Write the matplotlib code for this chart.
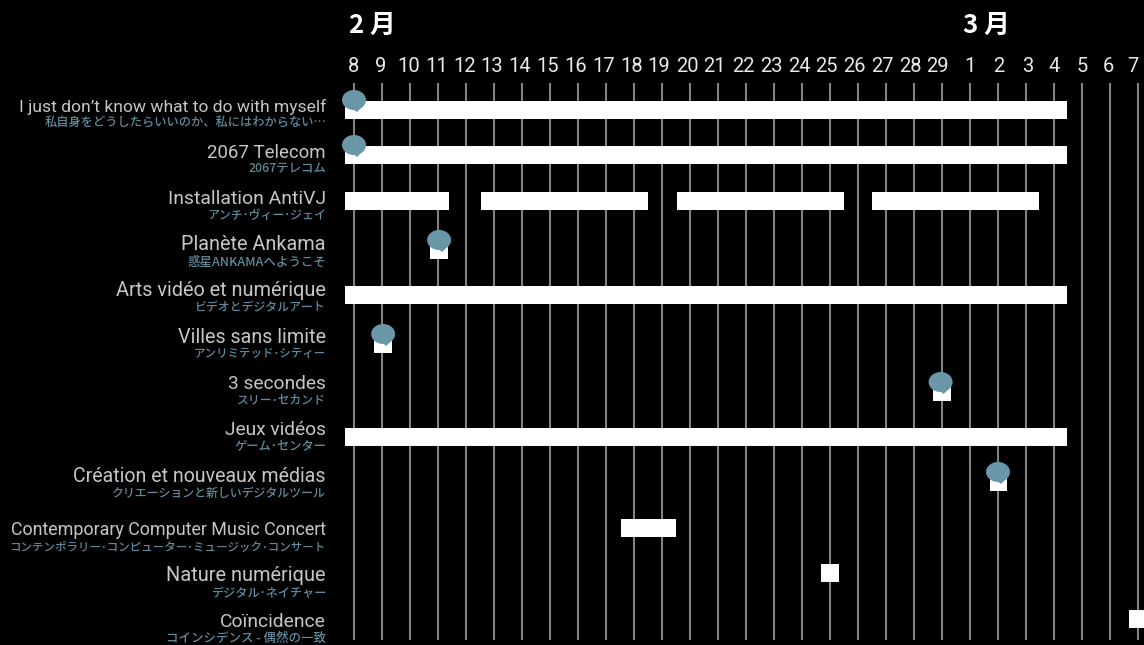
import matplotlib
matplotlib.use("Agg")
import matplotlib.pyplot as plt
from matplotlib.patches import Ellipse, Polygon

# ---- data ----
month_labels = ["2 月", "3 月"]
month_day_index = [0.66, 22.6]
day_labels = [8,9,10,11,12,13,14,15,16,17,18,19,20,21,22,23,24,25,26,27,28,29,1,2,3,4,5,6,7]
titles = ["I just don’t know what to do with myself", "2067 Telecom", "Installation AntiVJ",
          "Planète Ankama", "Arts vidéo et numérique", "Villes sans limite", "3 secondes",
          "Jeux vidéos", "Création et nouveaux médias", "Contemporary Computer Music Concert",
          "Nature numérique", "Coïncidence"]
subtitles = ["私自身をどうしたらいいのか、私にはわからない…", "2067テレコム", "アンチ･ヴィー･ジェイ",
             "惑星ANKAMAへようこそ", "ビデオとデジタルアート", "アンリミテッド･シティー", "スリー･セカンド",
             "ゲーム･センター", "クリエーションと新しいデジタルツール",
             "コンテンポラリー･コンピューター･ミュージック･コンサート", "デジタル･ネイチャー",
             "コインシデンス - 偶然の一致"]
# bar spans in day-index units (0 = Feb 8), per row
spans = [[(-0.32, 25.46)], [(-0.32, 25.46)],
         [(-0.32, 3.39), (4.53, 10.5), (11.54, 17.5), (18.5, 24.46)],
         [(2.71, 3.36)], [(-0.32, 25.46)], [(0.71, 1.36)], [(20.68, 21.32)],
         [(-0.32, 25.46)], [(22.71, 23.32)], [(9.54, 11.5)], [(16.68, 17.32)], [(27.68, 28.32)]]
bubble_rows = [0, 1, 3, 5, 6, 8]
bubble_days = [0, 0, 3.04, 1.04, 20.95, 23]

# ---- layout ----
W, H = 1144, 645
BLUE = "#6a97a8"
SUBBLUE = "#5f8b9c"
row_px = [110, 155, 201, 250, 295, 344, 392, 437, 482, 528, 573, 619]
title_base = [112, 158, 204, 250, 296, 343, 389, 435, 482, 535, 581, 627]
title_left = [21, 207.5, 168, 182, 116, 178, 228, 225, 73, 11, 165, 220]
sub_px = [123, 169, 215, 262, 308, 354, 400, 447, 493, 547, 593, 638]
sub_left = [44, 248, 207, 187, 195, 194, 237, 234, 111, 10, 211, 166]
day_label_px = [354, 381, 409, 437, 465, 492, 520, 548, 576, 604, 632, 659, 687, 714, 743, 771,
                799, 826, 854, 882, 910, 937, 970, 999, 1028, 1054, 1082, 1108, 1133]
X0, DX = 354, 28
RIGHT = 326
LATIN = ["Roboto", "DejaVu Sans"]
CJK = ["Noto Sans CJK JP", "DejaVu Sans"]

fig = plt.figure(figsize=(W/100, H/100), dpi=100, facecolor="black")
ax = fig.add_axes([0, 0, 1, 1], facecolor="black")
ax.set_xlim(-X0/DX, (W-X0)/DX)
ax.set_ylim(H, 0)
ax.axis("off")
px = 1/DX  # one pixel in day units
to_day = lambda p: (p - X0) * px


def fit(text, width):
    """Scale a text's size so that it spans the measured width."""
    r = fig.canvas.get_renderer()
    for _ in range(3):
        text.set_fontsize(text.get_fontsize() * width / text.get_window_extent(r).width)


for i, d in enumerate(day_labels):
    ax.plot([i, i], [83, 640], color="#808080", lw=1.5, solid_capstyle="butt", zorder=1)
    ax.text(to_day(day_label_px[i]), 72, str(d), color="#e8e8e8", fontsize=14.5, family=LATIN,
            ha="center", va="baseline")
for i, m in zip(month_day_index, month_labels):
    ax.text(i, 25, m, color="white", fontsize=18.5, fontweight="bold",
            family=CJK, ha="center", va="center")

for r, row in enumerate(spans):
    for a, b in row:
        ax.fill_between([a, b], row_px[r]-9, row_px[r]+9, color="white", lw=0, zorder=2)
    t = ax.text(to_day(RIGHT), title_base[r], titles[r], color="#c6c6c6", fontsize=14,
                family=LATIN, ha="right", va="baseline")
    fit(t, RIGHT - title_left[r])
    s = ax.text(to_day(RIGHT), sub_px[r], subtitles[r], color=SUBBLUE, fontsize=8.8,
                family=CJK, ha="right", va="center", fontweight="medium")
    fit(s, RIGHT - sub_left[r])

for r, d in zip(bubble_rows, bubble_days):
    cy = row_px[r] - 10
    ax.add_patch(Ellipse((d, cy), 24*px, 20, color=BLUE, lw=0, zorder=3))
    ax.add_patch(Polygon([(d-2*px, cy+8), (d+3*px, cy+12), (d+8*px, cy+7)], closed=True,
                         color=BLUE, lw=0, zorder=3))

fig.savefig("out.png", dpi=100, facecolor="black")
